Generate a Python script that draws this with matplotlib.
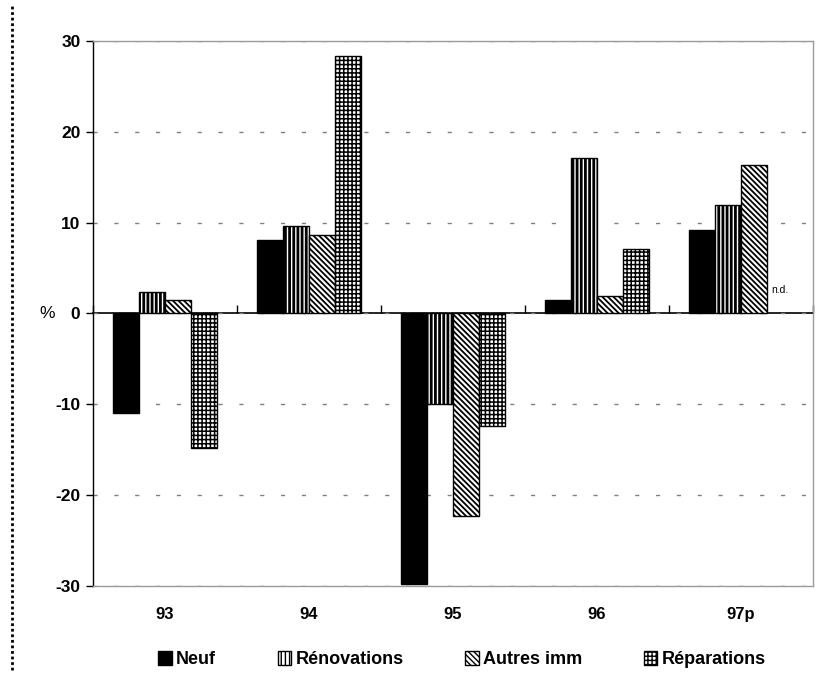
import matplotlib
matplotlib.use("Agg")
from matplotlib import pyplot as plt
from matplotlib.lines import Line2D
import numpy as np

plt.rcParams['font.family'] = ['Liberation Sans', 'DejaVu Sans']
plt.rcParams['hatch.linewidth'] = 1.0
plt.rcParams['axes.unicode_minus'] = False

years = ["93", "94", "95", "96", "97p"]
series = ["Neuf", "Rénovations", "Autres imm", "Réparations"]
neuf = [-11.0, 8.1, -29.8, 1.5, 9.2]
renovations = [2.4, 9.6, -10.0, 17.1, 11.9]
autres_imm = [1.5, 8.6, -22.3, 1.9, 16.3]
reparations = [-14.8, 28.4, -12.4, 7.1, np.nan]   # 97p : n.d.

values = [neuf, renovations, autres_imm, reparations]
colors = ["black", "white", "white", "white"]
hatches = [None, "||||", "\\\\\\\\\\\\", "++++"]
hatch_lw = [1.0, 2.0, 1.3, 1.1]

fig = plt.figure(figsize=(8.28, 6.74), dpi=100)
ax = fig.add_axes([0.1123, 0.1306, 0.8696, 0.8086])

x = np.arange(len(years))
w = 0.182
for k, (vals, name) in enumerate(zip(values, series)):
    bars = ax.bar(x + (k - 1.5) * w, vals, w, color=colors[k], edgecolor="black",
                  linewidth=1.0, hatch=hatches[k], label=name, zorder=3)
    for p in bars:
        if hasattr(p, "set_hatch_linewidth"):
            p.set_hatch_linewidth(hatch_lw[k])

# missing value for Réparations in 97p
ax.text(x[-1] + 1.5 * w - w / 2 + 0.03, 2.6, "n.d.", fontsize=7.5, va="center", ha="left")

ax.set_xlim(-0.5, len(years) - 0.5)
ax.set_ylim(-30, 30)
ax.set_yticks([-30, -20, -10, 0, 10, 20, 30])
ax.tick_params(axis="y", direction="out", length=5, width=1, pad=4, labelsize=12.5)
for lab in ax.get_yticklabels():
    lab.set_fontweight("bold")

ax.set_xticks(x)
ax.set_xticklabels(years, fontsize=12, fontweight="bold")
ax.tick_params(axis="x", length=0, pad=15)

ax.set_axisbelow(True)
ax.yaxis.grid(True, color="#808080", linewidth=1, linestyle=(0, (3, 12)))

for side in ["top", "right", "bottom"]:
    ax.spines[side].set_color("#9a9a9a")
    ax.spines[side].set_linewidth(1)
ax.spines["left"].set_linewidth(1)

# category axis crossing at zero, ticks pointing up
zero_ax = ax.secondary_xaxis(0.5)
zero_ax.set_xticks(np.arange(len(years) + 1) - 0.5)
zero_ax.set_xticklabels([])
zero_ax.tick_params(axis="x", direction="out", length=6, width=1)
for side in ["top", "bottom"]:
    zero_ax.spines[side].set_linewidth(1.2)
    zero_ax.spines[side].set_zorder(4)

ax.text(-0.064, 0.5, "%", transform=ax.transAxes, fontsize=12.5,
        ha="center", va="center")

fig.legend(loc="center", bbox_to_anchor=(0.558, 0.021), ncol=4, frameon=False,
           handlelength=0.75, handleheight=0.75, handletextpad=0.25,
           columnspacing=3.4, prop={"size": 13, "weight": "bold"})

# dotted frame line on the left
fig.add_artist(Line2D([0.0145, 0.0145], [0.006, 0.993], transform=fig.transFigure,
                      color="black", linewidth=2, linestyle=(0, (1, 1))))

fig.savefig("out.png", dpi=100)
